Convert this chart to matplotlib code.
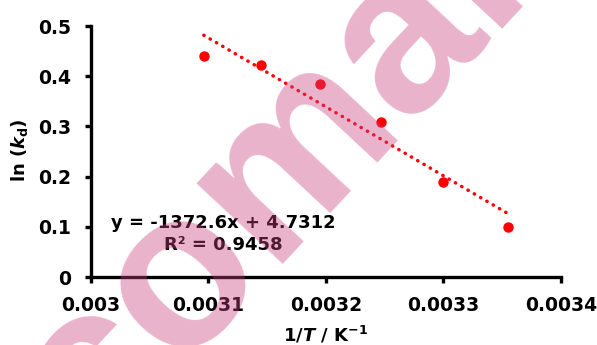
import numpy as np
import matplotlib
matplotlib.use("Agg")
import matplotlib.pyplot as plt

# data
inv_T = [0.003096, 0.003145, 0.003195, 0.003247, 0.003300, 0.003355]
ln_kd = [0.441, 0.422, 0.384, 0.309, 0.190, 0.099]
slope, intercept = -1372.6, 4.7312
r2 = 0.9458

plt.rcParams['font.family'] = ['DejaVu Sans']
plt.rcParams['font.weight'] = 'bold'
plt.rcParams['mathtext.fontset'] = 'custom'
plt.rcParams['mathtext.rm'] = 'DejaVu Sans:bold'
plt.rcParams['mathtext.bf'] = 'DejaVu Sans:bold'
plt.rcParams['mathtext.it'] = 'DejaVu Sans:italic:bold'

fig = plt.figure(figsize=(5.97, 3.45), dpi=100)
ax = fig.add_axes([0.1524, 0.197, 0.7873, 0.7276])

xs = np.array([min(inv_T), max(inv_T)])
ax.plot(xs, slope * xs + intercept, color='red', ls=(0, (0.1, 2.0)), lw=2.5,
        dash_capstyle='round')
ax.plot(inv_T, ln_kd, 'o', color='red', ms=6.5, mec='red', zorder=3)

ax.set_xlim(0.003, 0.0034)
ax.set_ylim(0, 0.5)
ax.set_xticks([0.003, 0.0031, 0.0032, 0.0033, 0.0034])
ax.set_xticklabels(['0.003', '0.0031', '0.0032', '0.0033', '0.0034'])
ax.set_yticks([0, 0.1, 0.2, 0.3, 0.4, 0.5])
ax.set_yticklabels(['0', '0.1', '0.2', '0.3', '0.4', '0.5'])

for s in ['top', 'right']:
    ax.spines[s].set_visible(False)
for s in ['left', 'bottom']:
    ax.spines[s].set_linewidth(2.4)
ax.tick_params(width=2.4, length=4.5, labelsize=13.5)
ax.tick_params(axis='x', pad=9)
ax.tick_params(axis='y', pad=10)

ax.set_xlabel(r'1/$T$ / K$^{\mathrm{-1}}$', fontsize=13, fontweight='bold')
ax.set_ylabel(r'ln ($k_{\mathrm{d}}$)', fontsize=13, fontweight='bold')
ax.xaxis.set_label_coords(0.498, -0.19)
ax.yaxis.set_label_coords(-0.13, 0.506)

fig.text(223 / 597, 1 - 234 / 345,
         'y = -1372.6x + 4.7312\nR² = %.4f' % r2,
         ha='center', va='center', fontsize=13, fontweight='bold',
         linespacing=1.25)

# watermark
fig.text(271 / 597, 1 - 183 / 345, 'comal', rotation=47, ha='center', va='center',
         fontsize=160, fontweight='bold', family='Liberation Sans',
         color='#c8417f', alpha=0.4, rotation_mode='anchor', zorder=10)

fig.savefig('out.png', dpi=100)
